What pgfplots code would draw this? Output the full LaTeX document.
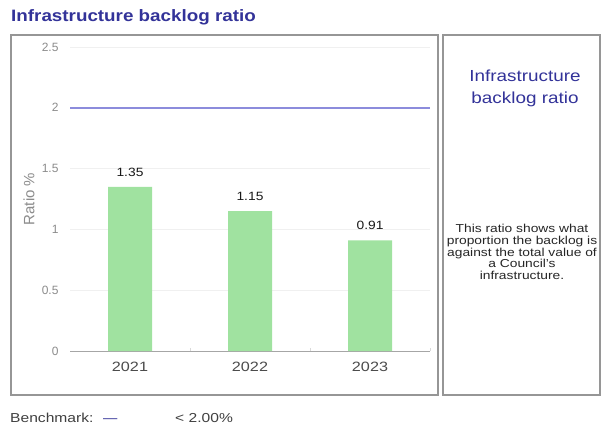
\documentclass[border=0pt]{standalone}
\usepackage{pgfplots}
\pgfplotsset{compat=1.18}
\usepackage{fontspec}
\setmainfont{Liberation Sans}
\definecolor{barGreen}{RGB}{160,226,160}
\definecolor{benchBlue}{RGB}{140,140,220}
\definecolor{titleBlue}{RGB}{51,51,153}
\definecolor{boxGray}{RGB}{150,150,150}
\begin{document}
\begin{tikzpicture}[x=1pt,y=1pt]
\path[use as bounding box] (0,0) rectangle (601,424);
\clip (0,0) rectangle (601,424);
\fill[white] (0,0) rectangle (601,424);
% title
\node[anchor=west, xscale=1.14, text=titleBlue, font=\fontsize{16.5}{18}\selectfont\bfseries, inner sep=0pt] at (11,407) {Infrastructure backlog ratio};
% boxes
\draw[boxGray, line width=1.2pt] (11,29) rectangle (438,389);
\draw[boxGray, line width=1.2pt] (443,29) rectangle (600,389);
% right panel text
\node[xscale=1.18, text=titleBlue, font=\fontsize{16}{22}\selectfont, align=center, inner sep=0pt] at (525,336) {Infrastructure\\backlog ratio};
\node[xscale=1.2, text=black!85, font=\fontsize{11.5}{11.6}\selectfont, align=center, inner sep=0pt] at (522,172) {This ratio shows what\\proportion the backlog is\\against the total value of\\a Council's\\infrastructure.};
% y label
\node[rotate=90, text=gray!90, font=\fontsize{15}{16}\selectfont, inner sep=0pt] at (29,225) {Ratio \%};
% benchmark footer
\node[anchor=base west, xscale=1.2, text=black!75, font=\fontsize{13}{14}\selectfont, inner sep=0pt] at (10,2) {Benchmark:};
\node[anchor=base west, xscale=1.1, text=titleBlue, font=\fontsize{13}{14}\selectfont, inner sep=0pt] at (103,2) {—};
\node[anchor=base west, xscale=1.2, text=black!75, font=\fontsize{13}{14}\selectfont, inner sep=0pt] at (175,2) {< 2.00\%};
\begin{axis}[
  at={(70pt,73pt)}, anchor=south west,
  scale only axis, width=360pt, height=304pt,
  xmin=-0.5, xmax=2.5, ymin=0, ymax=2.5,
  axis x line*=bottom, axis y line*=left,
  y axis line style={draw=none},
  x axis line style={draw=gray!70, line width=1pt},
  xtick={0,1,2}, xticklabels={2021,2022,2023},
  minor xtick={0.5,1.5,2.5},
  major tick length=0pt, minor tick length=3pt,
  minor tick style={gray!30},
  ytick={0,0.5,1,1.5,2,2.5},
  ymajorgrids, grid style={gray!12, line width=0.8pt},
  /pgf/number format/assume math mode=true,
  yticklabel style={text=gray!90, font=\fontsize{12}{13}\selectfont, xshift=-8pt},
  xticklabel style={text=black!70, font=\fontsize{13.5}{14}\selectfont, xscale=1.2, yshift=-8pt},
  clip=false,
]
\addplot[ybar, bar width=44pt, fill=barGreen, draw=none,
  nodes near coords, point meta=explicit symbolic,
  nodes near coords style={anchor=south, yshift=7pt, text=black!90, font=\fontsize{12}{13}\selectfont, xscale=1.15}]
  coordinates {(0,1.35)[1.35] (1,1.15)[1.15] (2,0.91)[0.91]};
\addplot[benchBlue, line width=2pt] coordinates {(-0.5,2) (2.5,2)};
\end{axis}
\end{tikzpicture}
\end{document}
